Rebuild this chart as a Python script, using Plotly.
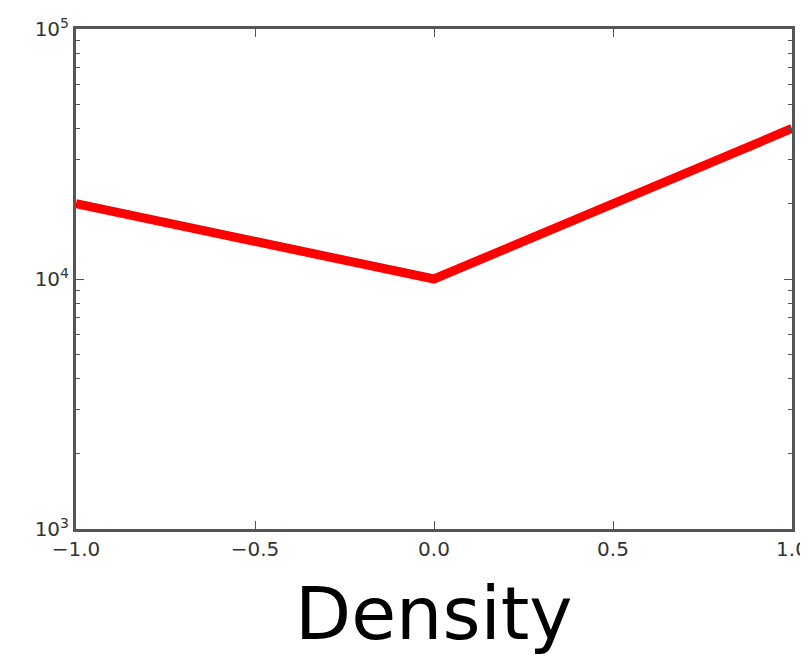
import plotly.graph_objects as go

x_vals = [-1.0, 0.0, 1.0]
y_vals = [20000, 10000, 40000]
x_ticks = [-1.0, -0.5, 0.0, 0.5, 1.0]
x_tick_labels = ["\u22121.0", "\u22120.5", "0.0", "0.5", "1.0"]
y_ticks = [1000, 10000, 100000]
y_tick_labels = ["10<sup>3</sup>", "10<sup>4</sup>", "10<sup>5</sup>"]
x_title = "Density"

fig = go.Figure()
fig.add_trace(go.Scatter(x=x_vals, y=y_vals, mode="lines",
                         line=dict(color="#ff0000", width=9), showlegend=False))

axis_font = dict(family="DejaVu Sans", size=20, color="#333333")
fig.update_layout(
    width=800, height=648,
    margin=dict(l=68, r=16, t=21, b=127),
    paper_bgcolor="white", plot_bgcolor="white",
    xaxis=dict(range=[-1, 1], tickvals=x_ticks, ticktext=x_tick_labels,
               ticks="inside", ticklen=8, tickcolor="#555555", tickwidth=1,
               showline=True, linecolor="#555555", linewidth=3, mirror="ticks",
               showgrid=False, zeroline=False, tickfont=axis_font, automargin=False,
               ticklabeloverflow="allow"),
    yaxis=dict(type="log", range=[3, 5], tickvals=y_ticks, ticktext=y_tick_labels,
               ticks="inside", ticklen=8, tickcolor="#555555", tickwidth=1,
               showline=True, linecolor="#555555", linewidth=3, mirror="ticks",
               showgrid=False, zeroline=False, tickfont=axis_font, automargin=False,
               ticklabeloverflow="allow",
               minor=dict(ticks="inside", ticklen=4, tickcolor="#555555",
                          tickvals=[2000,3000,4000,5000,6000,7000,8000,9000,
                                    20000,30000,40000,50000,60000,70000,80000,90000])),
    annotations=[dict(text=x_title, xref="paper", yref="paper", x=0.5, y=-0.168,
                      xanchor="center", yanchor="middle", showarrow=False,
                      font=dict(family="DejaVu Sans", size=73, color="black"))],
)
fig.write_html("out.html")
